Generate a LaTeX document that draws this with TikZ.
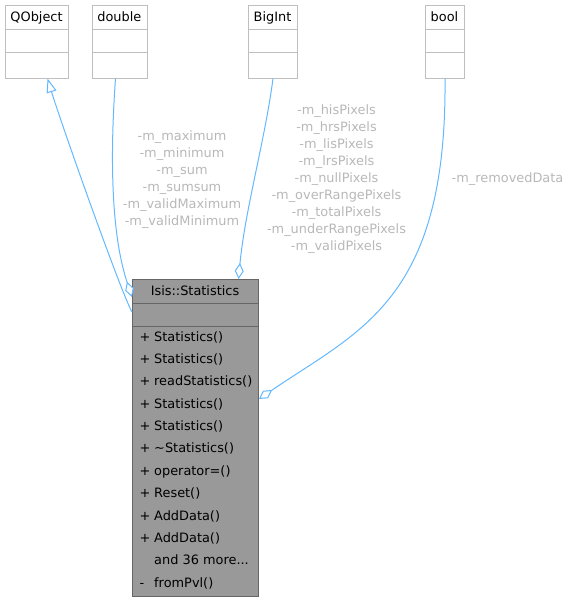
\documentclass[tikz,border=0pt]{standalone}
\usepackage{fontspec}
\setmainfont{DejaVu Sans}
\usetikzlibrary{arrows.meta}
\definecolor{edgec}{HTML}{63B8FF}
\definecolor{lblc}{HTML}{B8B8B8}
\definecolor{boxgray}{HTML}{BFBFBF}
\definecolor{statfill}{HTML}{999999}
\definecolor{statline}{HTML}{666666}
\newcommand\moremembers{and 36 more...}
\begin{document}
\begin{tikzpicture}[x=1pt,y=-1pt,
  every node/.style={font=\fontsize{12.9}{17}\selectfont, inner sep=0pt},
  cls/.style={draw=boxgray, fill=white, line width=1pt, anchor=north west},
  statbox/.style={draw=statline, fill=statfill, line width=1pt, anchor=north west},
  ttl/.style={text height=9.6pt, text depth=2.6pt},
  row/.style={anchor=west, text height=9.6pt, text depth=2.6pt},
  lbl/.style={text=lblc, align=center},
  edge/.style={draw=edgec, line width=1pt},
  dia/.style={{Diamond[open,length=16pt,width=9pt,fill=white]}-}
]
\useasboundingbox (0,0) rectangle (570,602);
% small classes
\node[cls, minimum width=63.5pt, minimum height=72.5pt] (qobj) at (4.8,5) {};
\node[cls, minimum width=54.7pt, minimum height=72.5pt] (dbl) at (92,5) {};
\node[cls, minimum width=48.4pt, minimum height=72.5pt] (big) at (248.3,5) {};
\node[cls, minimum width=39pt, minimum height=72.5pt] (bool) at (425,5) {};
\foreach \b in {qobj,dbl,big,bool}{
  \draw[boxgray, line width=1pt] (\b.west |- 0,30) -- (\b.east |- 0,30);
  \draw[boxgray, line width=1pt] (\b.west |- 0,52.3) -- (\b.east |- 0,52.3);
}
\node[ttl] (qobjT) at (36.55,18) {QObject};
\node[ttl] (dblT) at (119.35,18) {double};
\node[ttl] (bigT) at (272.5,18) {BigInt};
\node[ttl] (boolT) at (444.5,18) {bool};
% main class
\node[statbox, minimum width=126pt, minimum height=317pt] (stats) at (132,279) {};
\draw[statline, line width=1pt] (stats.west |- 0,303) -- (stats.east |- 0,303);
\draw[statline, line width=1pt] (stats.west |- 0,326) -- (stats.east |- 0,326);
\node[ttl] (statsT) at (195,291.5) {Isis::Statistics};
\foreach [count=\i from 0] \s/\m in {+/Statistics(),+/Statistics(),+/readStatistics(),+/Statistics(),+/Statistics(),+/\textasciitilde Statistics(),+/operator=(),+/Reset(),+/AddData(),+/AddData(),{}/\moremembers,-/fromPvl()}{
  \node[row] (s\i) at (139.5,337.7+22.35*\i) {\s};
  \node[row] (m\i) at (154,337.7+22.35*\i) {\m};
}
% edges
\draw[edge, -{Triangle[open,length=14pt,width=10pt,fill=white]}]
  ([yshift=-33pt]stats.north west) .. controls (120,290) and (60,120) .. ([xshift=10.5pt]qobj.south);
\draw[edge, dia]
  ([yshift=-18pt]stats.north west) .. controls (113,240) and (109,170) .. ([xshift=-4.35pt]dbl.south);
\draw[edge, dia]
  ([xshift=43pt]stats.north) .. controls (245,210) and (265,140) .. (big.south);
\draw[edge, dia]
  ([yshift=39pt]stats.east) .. controls (360,330) and (447,300) .. (bool.south);
% labels
\node[lbl] (lblD) at (182,179.5) {-m\_maximum\\-m\_minimum\\-m\_sum\\-m\_sumsum\\-m\_validMaximum\\-m\_validMinimum};
\node[lbl] (lblB) at (336.5,179.5) {-m\_hisPixels\\-m\_hrsPixels\\-m\_lisPixels\\-m\_lrsPixels\\-m\_nullPixels\\-m\_overRangePixels\\-m\_totalPixels\\-m\_underRangePixels\\-m\_validPixels};
\node[lbl, ttl] (lblR) at (507.5,179) {-m\_removedData};
\end{tikzpicture}
\end{document}
